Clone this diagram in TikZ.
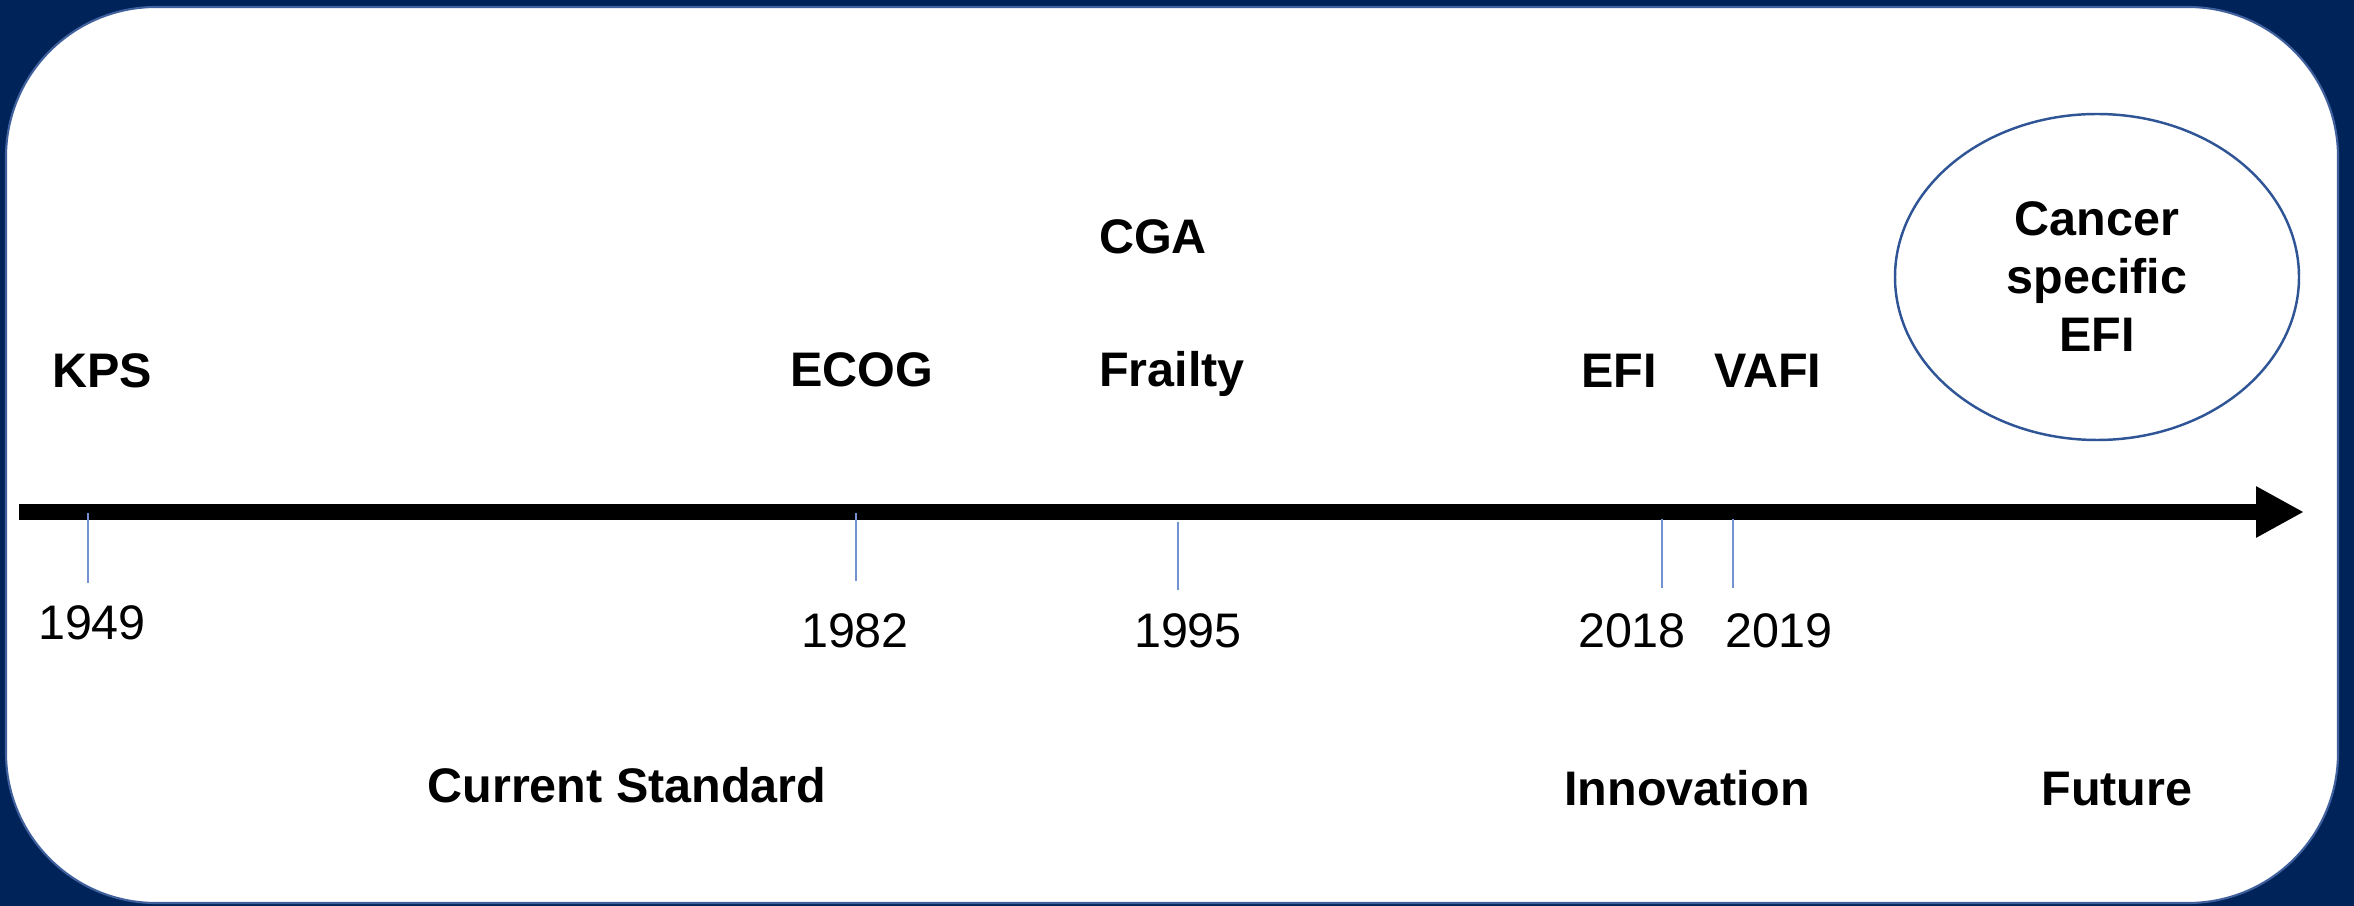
\documentclass[tikz,border=0pt]{standalone}
\usepackage{fontspec}
\setmainfont{Liberation Sans}
\usepackage{tikz}
\usetikzlibrary{calc, arrows.meta, shapes.geometric}
\definecolor{mynavy}{RGB}{0, 36, 90}
\definecolor{myframe}{RGB}{65, 97, 158}
\definecolor{mytick}{RGB}{114, 146, 210}
\definecolor{myring}{RGB}{47, 85, 151}
\tikzset{>=latex}
\tikzset{yearlbl/.style={anchor = base, font=\fontsize{13.8}{16}\selectfont}}
\tikzset{namelbl/.style={anchor = base, font=\fontsize{13.8}{16}\selectfont\bfseries}}
\tikzset{tickline/.style={mytick, line width=0.6pt}}

\begin{document}
\begin{tikzpicture}
% frame
\fill[mynavy] (0, 0) rectangle (23.54, 9.06);
\draw[myframe, line width=0.6pt, fill=white, rounded corners=1.5cm] (0.06, 0.03) rectangle (23.38, 8.99);

% time axis
\coordinate (axstart) at (0.19, 3.94);
\coordinate (axend) at (23.04, 3.94);
\draw[line width=0.16cm, -{Triangle[length=0.48cm, width=0.48cm]}] (axstart) -- (axend);

% ticks
\draw[tickline] (0.88, 3.93) -- (0.88, 3.23);
\draw[tickline] (8.56, 3.93) -- (8.56, 3.25);
\draw[tickline] (11.78, 3.84) -- (11.78, 3.16);
\draw[tickline] (16.62, 3.87) -- (16.62, 3.18);
\draw[tickline] (17.33, 3.87) -- (17.33, 3.18);

% years
\node[yearlbl] (y1949) at (0.92, 2.66) {1949};
\node[yearlbl] (y1982) at (8.55, 2.58) {1982};
\node[yearlbl] (y1995) at (11.88, 2.58) {1995};
\node[yearlbl] (y2018) at (16.32, 2.58) {2018};
\node[yearlbl] (y2019) at (17.79, 2.58) {2019};

% tools
\node[namelbl] (kps) at (1.02, 5.18) {KPS};
\node[namelbl] (ecog) at (8.62, 5.19) {ECOG};
\node[namelbl] (cga) at (11.53, 6.52) {CGA};
\node[namelbl] (frailty) at (11.72, 5.19) {Frailty};
\node[namelbl] (efi) at (16.19, 5.18) {EFI};
\node[namelbl] (vafi) at (17.68, 5.18) {VAFI};
\node[ellipse, draw=myring, line width=0.7pt, minimum width=4.04cm, minimum height=3.26cm, align=center, font=\fontsize{13.8}{16.5}\selectfont\bfseries] (csefi) at (20.97, 6.29) {Cancer\\specific\\EFI};

% eras
\node[namelbl] (current) at (6.27, 1.03) {Current Standard};
\node[namelbl] (innov) at (16.87, 1.00) {Innovation};
\node[namelbl] (future) at (21.17, 1.00) {Future};
\end{tikzpicture}
\end{document}
